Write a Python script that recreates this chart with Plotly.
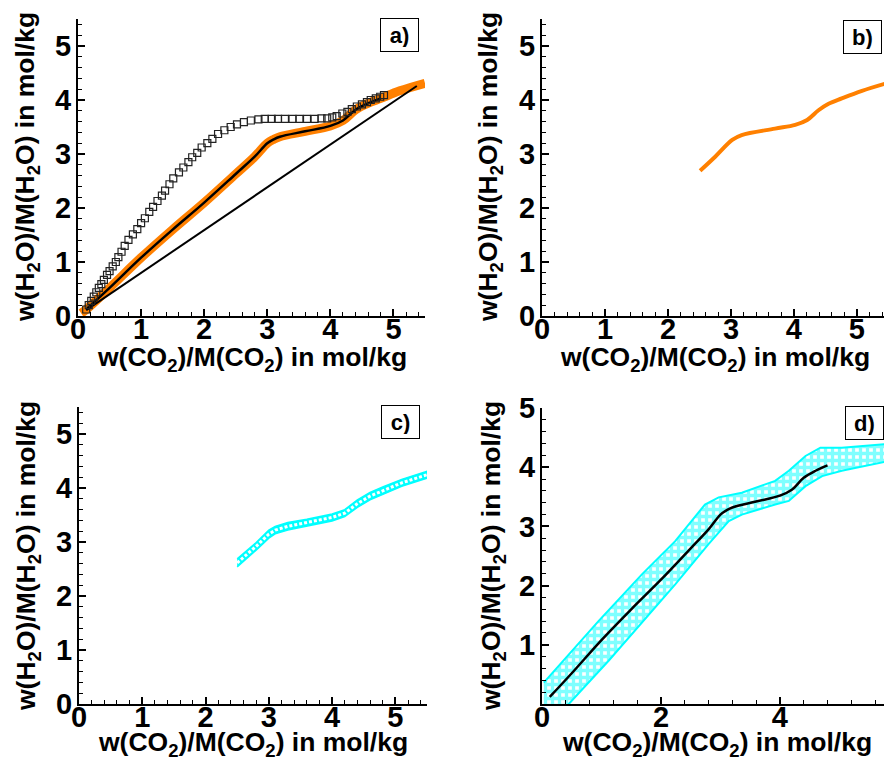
import plotly.graph_objects as go

# ---------------- data ----------------
# panel a: orange model band (drawn as thick line)
orange_a_x = [0.05, 0.13, 0.5, 1.0, 1.5, 2.0, 2.5, 2.8, 3.0, 3.1, 3.2, 3.6, 4.0, 4.2, 4.4, 4.6, 4.8, 5.1, 5.5]
orange_a_y = [0.05, 0.12, 0.52, 1.08, 1.60, 2.10, 2.63, 2.95, 3.20, 3.27, 3.32, 3.42, 3.52, 3.62, 3.82, 3.94, 4.03, 4.17, 4.31]

# black model curve (panels a and d)
curve_x = [0.13, 0.5, 1.0, 1.5, 2.0, 2.5, 2.8, 3.0, 3.1, 3.2, 3.6, 4.0, 4.2, 4.4, 4.6, 4.8]
curve_y = [0.12, 0.52, 1.08, 1.60, 2.10, 2.63, 2.95, 3.20, 3.27, 3.32, 3.42, 3.52, 3.62, 3.82, 3.94, 4.03]

# straight reference line (panel a)
straight_x = [0.13, 5.37]
straight_y = [0.11, 4.26]

# open squares (panel a)
sq_x = [0.13, 0.17, 0.21, 0.25, 0.29, 0.33, 0.37, 0.41, 0.46, 0.50, 0.55, 0.60, 0.64, 0.69, 0.74,
        0.80, 0.87, 0.94, 1.00, 1.06, 1.13, 1.19, 1.26, 1.33, 1.38, 1.45, 1.51, 1.60, 1.67, 1.75,
        1.81, 1.89, 1.96, 2.05, 2.13, 2.22, 2.32, 2.42, 2.52, 2.63, 2.74, 2.86, 2.96, 3.07, 3.17,
        3.28, 3.40, 3.51, 3.63, 3.75, 3.86, 3.95, 4.03, 4.10, 4.19, 4.27, 4.34, 4.42, 4.50, 4.58,
        4.64, 4.72, 4.79, 4.85]
sq_y = [0.12, 0.20, 0.28, 0.36, 0.44, 0.52, 0.59, 0.67, 0.76, 0.83, 0.92, 1.00, 1.09, 1.19, 1.30,
        1.41, 1.51, 1.61, 1.72, 1.81, 1.93, 2.02, 2.13, 2.23, 2.32, 2.44, 2.55, 2.66, 2.75, 2.85,
        2.94, 3.02, 3.12, 3.20, 3.28, 3.37, 3.44, 3.50, 3.55, 3.59, 3.62, 3.64, 3.65, 3.65, 3.65,
        3.65, 3.65, 3.65, 3.65, 3.65, 3.66, 3.66, 3.68, 3.70, 3.75, 3.78, 3.83, 3.88, 3.92, 3.96,
        4.00, 4.03, 4.06, 4.09]

# panel b: orange line
orange_b_x = [2.51, 2.75, 3.02, 3.17, 3.70, 4.02, 4.21, 4.39, 4.55, 4.76, 5.08, 5.50]
orange_b_y = [2.69, 2.95, 3.26, 3.35, 3.47, 3.54, 3.63, 3.81, 3.93, 4.03, 4.17, 4.32]

# panel c: narrow cyan band
c_x = [2.5, 2.8, 3.0, 3.1, 3.3, 3.6, 4.0, 4.2, 4.4, 4.6, 4.8, 5.1, 5.5]
c_upper = [2.69, 2.99, 3.22, 3.29, 3.36, 3.42, 3.52, 3.60, 3.78, 3.92, 4.02, 4.16, 4.31]
c_lower = [2.54, 2.85, 3.07, 3.15, 3.22, 3.29, 3.39, 3.47, 3.64, 3.78, 3.88, 4.03, 4.18]

# panel d: wide cyan band
d_up_x = [0.03, 0.95, 1.68, 2.24, 2.74, 2.97, 3.36, 3.92, 4.15, 4.43, 4.68, 5.04, 5.80]
d_up_y = [0.36, 1.40, 2.19, 2.75, 3.37, 3.49, 3.57, 3.77, 3.94, 4.19, 4.33, 4.33, 4.39]
d_lo_x = [0.03, 0.45, 1.12, 1.68, 2.24, 2.80, 3.14, 3.36, 3.92, 4.15, 4.43, 4.71, 5.04, 5.80]
d_lo_y = [-0.50, 0.00, 0.73, 1.37, 2.02, 2.70, 3.09, 3.20, 3.37, 3.43, 3.68, 3.85, 3.94, 4.10]

x_title = "<b>w(CO<sub>2</sub>)/M(CO<sub>2</sub>) in mol/kg</b>"
y_title = "<b>w(H<sub>2</sub>O)/M(H<sub>2</sub>O) in mol/kg</b>"
panel_labels = ["a)", "b)", "c)", "d)"]

# ---------------- figure ----------------
W, H = 884, 762
ORANGE = "#FF8000"
CYAN = "#00FFFF"
FONT = "Liberation Sans, Arial, sans-serif"

fig = go.Figure()

# panel a
fig.add_trace(go.Scatter(x=orange_a_x, y=orange_a_y, mode="lines", line=dict(color=ORANGE, width=9, shape="spline"),
                         xaxis="x", yaxis="y", showlegend=False))
fig.add_trace(go.Scatter(x=straight_x, y=straight_y, mode="lines", line=dict(color="black", width=2),
                         xaxis="x", yaxis="y", showlegend=False))
fig.add_trace(go.Scatter(x=curve_x, y=curve_y, mode="lines", line=dict(color="black", width=2.5, shape="spline"),
                         xaxis="x", yaxis="y", showlegend=False))
fig.add_trace(go.Scatter(x=sq_x, y=sq_y, mode="markers",
                         marker=dict(symbol="square-open", size=7, color="#222", line=dict(width=1.2, color="#222")),
                         xaxis="x", yaxis="y", showlegend=False))

# panel b
fig.add_trace(go.Scatter(x=orange_b_x, y=orange_b_y, mode="lines", line=dict(color=ORANGE, width=4, shape="spline"),
                         xaxis="x2", yaxis="y2", showlegend=False))

# panel c
fig.add_trace(go.Scatter(x=c_x + c_x[::-1], y=c_upper + c_lower[::-1], mode="lines", fill="toself",
                         fillcolor=CYAN, line=dict(color=CYAN, width=1.5),
                         xaxis="x3", yaxis="y3", showlegend=False))
c_mid = [(u + l) / 2 for u, l in zip(c_upper, c_lower)]
fig.add_trace(go.Scatter(x=c_x, y=c_mid, mode="lines", line=dict(color="white", width=3, dash="3px,2px"),
                         xaxis="x3", yaxis="y3", showlegend=False))

# panel d
fig.add_trace(go.Scatter(x=d_up_x + d_lo_x[::-1], y=d_up_y + d_lo_y[::-1], mode="lines", fill="toself",
                         fillcolor="white",
                         fillpattern=dict(shape="+", fgcolor=CYAN, bgcolor="white", size=7, solidity=0.72),
                         line=dict(color=CYAN, width=2),
                         xaxis="x4", yaxis="y4", showlegend=False))
fig.add_trace(go.Scatter(x=curve_x, y=curve_y, mode="lines", line=dict(color="black", width=2.5, shape="spline"),
                         xaxis="x4", yaxis="y4", showlegend=False))

tickfont = dict(family=FONT, size=29, color="black", weight="bold")


def ax(domain, rng, dtick, minor_dtick, anchor, letter, tickvals=None):
    d = dict(domain=domain, range=rng, anchor=anchor, showline=True, linewidth=2, linecolor="black",
             showgrid=False, zeroline=False, ticks="inside", ticklen=7, tickwidth=1.5, tickcolor="black",
             tickfont=tickfont, dtick=dtick, tick0=0, automargin=False,
             ticklabelstandoff=-14 if letter == "x" else -1,
             minor=dict(ticks="inside", dtick=minor_dtick, tick0=0, ticklen=4, tickwidth=1.2, tickcolor="black",
                        showgrid=False))
    if tickvals is not None:
        d["tickmode"] = "array"
        d["tickvals"] = tickvals
    return d


xa = [78 / W, 425 / W]
ya = [1 - 316 / H, 1 - 19 / H]
xb = [542 / W, 1.0]
xc = [79 / W, 427 / W]
yc = [1 - 704 / H, 1 - 407 / H]
xd = [542 / W, 1.0]
yd = [1 - 704 / H, 1 - 408 / H]

fig.update_layout(
    width=W, height=H,
    margin=dict(l=0, r=0, t=0, b=0, pad=0, autoexpand=False),
    paper_bgcolor="white", plot_bgcolor="white",
    font=dict(family=FONT, color="black"),
    showlegend=False,
    xaxis=ax(xa, [0, 5.5], 1, 0.2, "y", "x"),
    yaxis=ax(ya, [0, 5.5], 1, 0.2, "x", "y"),
    xaxis2=ax(xb, [0, 5.43], 1, 0.2, "y2", "x"),
    yaxis2=ax(ya, [0, 5.5], 1, 0.2, "x2", "y"),
    xaxis3=ax(xc, [0, 5.5], 1, 0.2, "y3", "x"),
    yaxis3=ax(yc, [0, 5.5], 1, 0.2, "x3", "y"),
    xaxis4=ax(xd, [0, 5.75], 2, 0.4, "y4", "x"),
    yaxis4=ax(yd, [0, 5.0], 1, 0.2, "x4", "y", tickvals=[1, 2, 3, 4, 5]),
)

annotations = []
# axis titles
title_font = dict(family=FONT, size=26.5, color="black")
for (cx, cy) in [(251.5, 359), (715, 359), (253, 744), (717, 744)]:
    annotations.append(dict(text=x_title, xref="paper", yref="paper", x=cx / W, y=1 - cy / H,
                            xanchor="center", yanchor="middle", showarrow=False, font=title_font))
for (cx, cy) in [(27, 167), (490, 167), (28, 556), (493, 556)]:
    annotations.append(dict(text=y_title, xref="paper", yref="paper", x=cx / W, y=1 - cy / H,
                            xanchor="center", yanchor="middle", showarrow=False, font=title_font,
                            textangle=-90))
# panel labels
for lab, (cx, cy) in zip(panel_labels, [(399.5, 35.5), (862.5, 37), (400, 421.5), (864, 423)]):
    annotations.append(dict(text="<b>" + lab + "</b>", xref="paper", yref="paper", x=cx / W, y=1 - cy / H,
                            xanchor="center", yanchor="middle", showarrow=False,
                            font=dict(family=FONT, size=22, color="black"),
                            bordercolor="black", borderwidth=1, borderpad=4, bgcolor="white",
                            width=29, height=24))
fig.update_layout(annotations=annotations)

fig.write_html("out.html")
